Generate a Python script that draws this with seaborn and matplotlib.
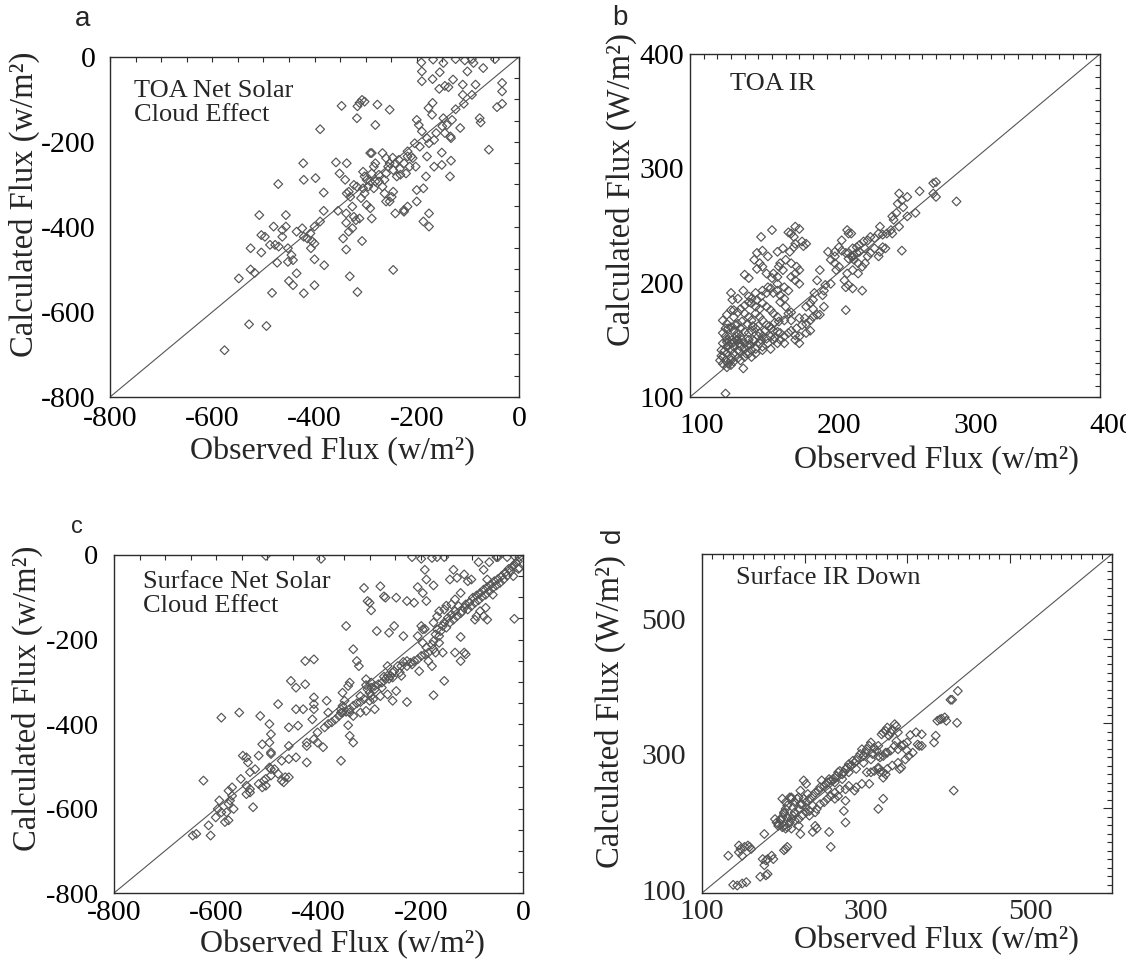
import matplotlib
matplotlib.use("Agg")
import matplotlib.pyplot as plt
import matplotlib.transforms as mtransforms
from matplotlib.ticker import MultipleLocator, FixedLocator, NullFormatter
import pandas as pd
import seaborn as sns

# values (W/m2)

# a) TOA net solar cloud effect
toa_sw_obs = [
    -191, -168, -148, -124, -106, -92, -89, -47, -190, -169, -155, -101,
    -70, -33, -190, -156, -145, -138, -129, -110, -85, -33, -110, -92,
    -43, -33, -169, -177, -170, -148, -131, -124, -115, -108, -77, -75,
    -200, -196, -190, -180, -176, -166, -162, -145, -150, -141, -134, -133,
    -59, -151, -133, -151, -135, -166, -180, -182, -187, -202, -200, -200,
    -218, -225, -176, -187, -176, -208, -218, -211, -194,
    -204, -218, -225, -235, -242, -246, -253, -260, -263, -267, -274, -281,
    -284, -288, -291, -295, -302, -309, -317, -288, -267, -260, -281, -298,
    -305, -249, -253, -246, -239, -232, -221, -214, -233, -247, -256, -274,
    -284, -305, -323, -330, -337, -326, -338, -323, -312, -298, -291, -288,
    -263, -260, -225, -242, -246,
    -316, -312, -307, -302, -317, -281, -277, -253, -347, -389,
    -358, -337, -351, -340, -333, -302, -291, -354, -338, -326, -333, -344,
    -319, -338, -307, -331, -316, -422, -421, -398, -382, -382, -389, -400,
    -408, -421, -414, -405, -400, -407, -400, -381, -421, -400, -435, -424,
    -508, -456, -480, -463, -456, -504, -497, -463, -487, -477, -470, -452,
    -525, -504, -445, -473, -452, -442, -435, -450, -442, -483, -525, -517,
    -548, -471, -576, -528, -494,
]
toa_sw_calc = [
    -13, -6, -14, -5, -8, -5, -14, -5, -34, -52, -36, -34,
    -26, -61, -57, -75, -68, -71, -53, -65, -65, -81, -89, -89,
    -118, -110, -108, -120, -136, -144, -148, -123, -167, -110, -144, -154,
    -148, -160, -175, -191, -203, -195, -179, -179, -163, -160, -187, -191,
    -218, -225, -244, -254, -281, -258, -234, -281, -309, -258, -313, -340,
    -352, -364, -368, -387, -399, -238, -222, -234, -211,
    -203, -234, -250, -242, -250, -266, -250, -274, -289, -305, -277, -293,
    -258, -274, -293, -305, -321, -332, -305, -226, -226, -238, -250, -289,
    -270, -329, -340, -317, -281, -277, -274, -258, -263, -237, -258, -293,
    -309, -309, -301, -329, -321, -352, -368, -376, -380, -348, -356, -380,
    -321, -340, -360, -368, -501,
    -116, -108, -101, -105, -144, -160, -112, -124, -115, -170,
    -248, -250, -274, -289, -317, -281, -226, -362, -390, -403, -411, -427,
    -384, -453, -433, -516, -553, -250, -289, -285, -319, -362, -387, -399,
    -415, -423, -427, -433, -439, -450, -476, -490, -556, -537, -411, -403,
    -372, -372, -399, -407, -399, -419, -423, -423, -442, -442, -446, -450,
    -450, -460, -466, -484, -482, -478, -509, -527, -537, -555, -500, -508,
    -521, -299, -690, -629, -633,
]

# b) TOA IR
toa_ir_obs = [
    278, 280, 278, 280, 295, 268, 265, 259, 253, 255, 252, 256,
    259, 251, 248, 249, 253, 247, 244, 241, 239, 238, 235, 232,
    230, 227, 224, 228, 224, 222, 219, 216, 219, 222, 216, 215,
    218, 211, 209, 206, 211, 214, 216, 220, 223, 226, 219, 223,
    215, 213, 216, 214, 219, 226, 218, 220, 235, 238, 243, 248,
    255, 241, 239, 232, 230, 228, 214, 206, 207, 209, 206, 203,
    201, 203, 199, 195, 193, 197, 198, 191, 190, 188, 185, 190,
    198,
    177, 180, 174, 172, 176, 182, 185, 183, 177, 160, 152, 153,
    149, 147, 151, 149, 153, 157, 143, 140, 164, 168, 173, 176,
    170, 174, 178, 180, 177, 174, 177, 180, 166, 165, 168, 161,
    160, 156, 164, 164, 169, 172, 166, 164, 161, 159, 157, 153,
    156, 152, 149, 148, 145, 143, 169, 166, 170, 172, 174, 174,
    169, 165, 164, 161, 159, 156, 153, 151, 148, 145, 143, 140,
    137, 135, 132, 130, 131, 135, 139, 140, 143, 145, 148, 151,
    153, 156, 159, 161, 164, 166, 169, 172, 177, 180, 177, 174,
    178, 182, 180, 184, 185, 188, 190, 193, 195, 188, 185, 180,
    124, 126, 127, 130, 132, 130, 127, 124, 126, 128, 130, 132,
    135, 137, 140, 143, 137, 135, 132, 130, 127, 124, 127, 130,
    132, 135, 137, 140, 143, 145, 148, 151, 153, 156, 159, 161,
    164, 166, 169, 159, 153, 151, 148, 145, 143, 140, 137, 135,
    132, 130, 127, 124, 123, 124, 127, 122, 123, 139, 145, 148,
    153, 130, 134, 136, 126,
    125, 128, 131, 134, 138, 142, 146, 150, 155, 158, 162, 128,
    133, 138, 142, 146, 150, 136, 140, 144, 147, 152, 157, 162,
    127, 129, 126, 132, 135, 141,
]
toa_ir_calc = [
    287, 288, 278, 275, 271, 280, 261, 275, 278, 272, 269, 266,
    258, 261, 258, 255, 249, 246, 243, 242, 249, 243, 239, 240,
    237, 236, 233, 230, 227, 226, 223, 226, 230, 231, 243, 246,
    243, 237, 231, 227, 228, 226, 221, 220, 217, 214, 211, 208,
    208, 202, 198, 196, 195, 193, 223, 224, 230, 223, 230, 243,
    228, 231, 227, 226, 223, 217, 176, 217, 211, 214, 223, 220,
    227, 199, 198, 211, 202, 189, 193, 191, 185, 182, 179, 177,
    179,
    249, 247, 243, 244, 240, 236, 234, 232, 234, 246, 240, 228,
    226, 220, 217, 212, 214, 223, 204, 207, 227, 230, 227, 231,
    220, 217, 214, 211, 208, 205, 202, 199, 217, 214, 211, 208,
    204, 208, 205, 199, 196, 193, 189, 193, 191, 195, 196, 193,
    191, 188, 185, 191, 186, 188, 186, 183, 179, 173, 167, 174,
    167, 166, 170, 173, 176, 179, 182, 177, 179, 182, 183, 180,
    177, 174, 176, 191, 185, 186, 193, 173, 170, 167, 173, 170,
    167, 163, 160, 158, 157, 156, 153, 156, 150, 147, 154, 158,
    160, 163, 169, 169, 164, 167, 170, 172, 172, 158, 156, 153,
    156, 153, 150, 147, 144, 141, 138, 135, 132, 129, 135, 138,
    141, 144, 147, 150, 153, 156, 158, 161, 164, 167, 172, 176,
    170, 164, 160, 157, 156, 158, 160, 156, 153, 151, 153, 150,
    147, 150, 147, 142, 144, 147, 142, 141, 138, 135, 132, 134,
    131, 128, 126, 129, 141, 147, 144, 132, 136, 125, 135, 138,
    141, 132, 150, 147, 103,
    140, 145, 150, 153, 150, 145, 150, 153, 158, 162, 165, 160,
    163, 166, 164, 162, 162, 140, 142, 146, 149, 150, 147, 152,
    148, 152, 160, 148, 150, 138,
]

# c) surface net solar cloud effect
sfc_sw_obs = [
    -503, -395, -217, -199, -178, -168, -154, -52, -31, -17, -7,
    -10, -14, -17, -7, -21, -28, -24, -35, -31, -42, -38, -49,
    -45, -56, -52, -63, -59, -70, -66, -77, -73, -84, -80, -91,
    -87, -98, -94, -105, -101, -112, -108, -115, -119, -126, -122, -133,
    -129, -140, -136, -147, -143, -154, -150, -157, -161, -168, -164, -171,
    -175, -178, -175, -171, -185, -189, -196, -192, -199, -206, -213, -220,
    -227, -234, -238, -245, -252, -255, -259, -262, -269, -276, -283, -290,
    -297, -304, -307, -300, -297, -311, -318, -325, -332, -339, -346, -353,
    -360, -367, -374, -381, -388,
    -17, -19, -9, -49, -66, -87, -101, -108, -77, -70, -59, -73,
    -84, -91, -94, -77, -70, -115, -129, -122, -133, -140, -150, -154,
    -164, -168, -175, -189, -192, -196, -206, -175, -189, -199, -196, -136,
    -143, -122, -115, -122, -112, -133, -157, -164, -185, -178, -154, -175,
    -192, -206,
    -279, -272, -269, -248, -227, -213, -304, -300, -297, -286, -262, -252,
    -234, -332, -325, -321, -346, -311, -265, -248, -227, -255, -290, -279,
    -307, -297, -265,
    -342, -339, -353, -349, -339, -353, -332, -318, -307, -293, -290, -276,
    -272, -265, -255, -241, -238, -227, -217, -203, -318, -300, -339, -332,
    -342, -384, -381, -356, -356, -356, -409, -409, -426, -454, -444, -409,
    -426, -479, -496, -458, -440, -409, -412, -402, -391, -409, -423, -423,
    -444, -423, -458,
    -458, -472, -479, -486, -472, -468, -465, -458, -493, -493, -503, -503,
    -510, -517, -496, -493, -517, -507, -524, -541, -548, -538, -534, -541,
    -534, -541, -552, -569, -576, -569, -573, -576, -566, -580, -576, -583,
    -594, -590, -597, -601, -615, -611, -639, -646, -625, -590, -555, -528,
    -534, -510, -493, -493, -496, -514, -444, -430, -402,
]
sfc_sw_calc = [
    -2, -9, -5, -9, -7, -5, -5, -5, -5, -2, -5,
    -15, -19, -23, -31, -28, -33, -39, -42, -49, -50, -58, -57,
    -66, -62, -72, -70, -78, -76, -86, -82, -94, -90, -99, -96,
    -107, -101, -113, -112, -121, -117, -129, -125, -133, -121, -138, -133,
    -145, -141, -153, -149, -160, -160, -172, -168, -180, -176, -192, -188,
    -204, -212, -223, -231, -231, -219, -208, -235, -239, -247, -251, -255,
    -251, -253, -263, -263, -275, -278, -286, -293, -294, -302, -306, -310,
    -314, -318, -308, -326, -334, -341, -348, -351, -357, -365, -371, -373,
    -381, -389, -396, -400, -408,
    -151, -50, -33, -5, -17, -17, -58, -62, -35, -58, -94, -125,
    -133, -145, -153, -145, -153, -46, -54, -90, -105, -117, -120, -129,
    -133, -145, -160, -58, -35, -90, -76, -72, -109, -168, -176, -35,
    -58, -194, -231, -251, -235, -231, -231, -208, -251, -263, -298, -332,
    -175, -192,
    -74, -98, -101, -101, -109, -113, -109, -113, -131, -180, -184, -168,
    -192, -223, -251, -263, -168, -78, -330, -322, -348, -345, -365, -334,
    -294, -302, -263,
    -310, -302, -326, -345, -373, -357, -381, -373, -369, -341, -318, -314,
    -288, -286, -290, -278, -286, -263, -259, -275, -334, -345, -428, -444,
    -403, -345, -373, -487, -373, -365, -337, -353, -306, -298, -314, -247,
    -251, -353, -400, -408, -404, -365, -389, -444, -455, -436, -444, -491,
    -479, -452, -452,
    -483, -487, -518, -507, -534, -538, -526, -526, -522, -507, -530, -546,
    -550, -542, -444, -467, -475, -534, -507, -479, -475, -491, -514, -546,
    -562, -566, -530, -550, -558, -570, -581, -589, -601, -609, -628, -632,
    -581, -609, -601, -621, -640, -664, -660, -664, -534, -385, -373, -597,
    -554, -448, -424, -471, -503, -381, -365, -365, -420,
]

# d) surface IR down
sfc_ir_obs = [
    412, 405, 403, 411, 390, 387, 392, 396, 398, 385, 383, 363,
    365, 368, 361, 354, 350, 346, 343, 339, 337, 335, 332, 330,
    328, 326, 324, 321, 319, 337, 335, 339, 330, 326, 321, 317,
    313, 315, 310, 308, 306, 304, 301, 299, 297, 295, 293, 290,
    288, 286, 284, 282, 279, 277, 275, 273, 271, 268, 266, 264,
    262, 260, 257, 255, 253, 251, 249, 246, 244, 242, 253, 262,
    271, 279, 288, 297, 306, 315, 324, 339, 341, 343, 332, 326,
    321, 317, 315, 310, 306, 301, 321, 324, 315, 352, 357, 350,
    348, 368, 407, 315, 321, 304, 295, 288, 286, 279, 275, 275,
    273, 275, 262, 255, 257, 238, 240, 235, 238, 231, 227, 227,
    222, 224, 220, 218, 213, 211, 209, 213, 218, 222, 227, 231,
    235, 240, 244, 249, 253, 257, 262, 266, 268, 235, 238, 231,
    229, 227, 224, 218, 220, 209, 204, 202, 200, 198, 196, 193,
    200, 207, 204, 202, 209, 218, 220, 209, 207, 198, 200, 211,
    213, 216, 202, 196, 189, 191, 193, 198, 204, 176, 174, 178,
    180, 187, 176, 178, 180, 171, 202, 204, 200, 185, 156, 152,
    147, 145, 158, 160, 145, 132, 149, 149, 154, 138, 143,
]
sfc_ir_calc = [
    398, 385, 385, 351, 356, 354, 357, 359, 354, 332, 322, 319,
    317, 334, 337, 333, 322, 319, 317, 337, 346, 349, 341, 337,
    332, 344, 339, 337, 334, 324, 317, 312, 310, 307, 302, 300,
    310, 317, 314, 305, 322, 317, 312, 307, 302, 312, 305, 300,
    295, 292, 295, 288, 290, 285, 283, 278, 275, 280, 278, 273,
    270, 268, 266, 268, 263, 261, 258, 266, 256, 251, 253, 263,
    268, 278, 283, 292, 297, 302, 307, 292, 283, 285, 288, 283,
    278, 278, 283, 280, 278, 278, 270, 275, 285, 302, 307, 310,
    297, 317, 251, 224, 239, 261, 261, 256, 251, 258, 253, 236,
    221, 204, 239, 190, 168, 199, 195, 190, 219, 221, 226, 234,
    231, 239, 231, 224, 219, 214, 209, 207, 209, 214, 219, 214,
    229, 224, 231, 234, 239, 243, 248, 243, 253, 243, 248, 239,
    246, 261, 266, 241, 251, 239, 229, 224, 217, 212, 207, 202,
    199, 204, 212, 195, 195, 199, 187, 241, 241, 239, 219, 226,
    234, 239, 234, 209, 209, 204, 199, 197, 197, 187, 150, 148,
    150, 150, 141, 126, 128, 124, 165, 168, 163, 155, 170, 168,
    165, 160, 168, 165, 170, 155, 155, 114, 116, 112, 111,
]

panel_letters = ["a", "b", "c", "d"]
panel_notes = ["TOA Net Solar\nCloud Effect", "TOA IR",
               "Surface Net Solar\nCloud Effect", "Surface IR Down"]
y_titles = ["Calculated Flux (w/m²)", "Calculated Flux (W/m²)",
            "Calculated Flux (w/m²)", "Calculated Flux (W/m²)"]
x_title = "Observed Flux (w/m²)"
d_tick_labels = [100, 300, 500]

sns.set_style("white")
plt.rcParams["font.family"] = ["Liberation Serif", "DejaVu Serif"]
plt.rcParams["axes.unicode_minus"] = False

W, H = 1126, 971
fig = plt.figure(figsize=(W / 100, H / 100), dpi=100)
MARK = "#555555"
INK = "#2b2b2b"
SANS = ["Liberation Sans", "DejaVu Sans"]


def add_panel(box):
    left, top, right, bottom = box
    return fig.add_axes([left / W, 1 - bottom / H, (right - left) / W, (bottom - top) / H])


def frac(box, px, py):
    left, top, right, bottom = box
    return (px - left) / (right - left), (bottom - py) / (bottom - top)


def draw_panel(box, obs, calc, lim, ytitle, note, note_at, ylab_at, xlab_at, xpad, ypad):
    ax = add_panel(box)
    df = pd.DataFrame({"obs": obs, "calc": calc})
    sns.scatterplot(data=df, x="obs", y="calc", ax=ax, marker="D", s=20,
                    facecolors="none", edgecolor=MARK, linewidth=0.85, legend=False)
    ax.axline((lim[0], lim[0]), slope=1, color="#555555", lw=0.8, zorder=1)
    ax.set_xlim(lim)
    ax.set_ylim(lim)
    for sp in ax.spines.values():
        sp.set_color(INK)
        sp.set_linewidth(1.0)
    ax.tick_params(which="both", direction="in", top=True, right=True,
                   length=3.4, width=0.8, color=INK, labelsize=21.5, labelcolor="black")
    ax.tick_params(axis="x", pad=xpad)
    ax.tick_params(axis="y", pad=ypad)

    ax.set_ylabel(ytitle, fontsize=23.5)
    ax.yaxis.set_label_coords(*frac(box, *ylab_at))
    ax.yaxis.label.set_va("center")
    ax.set_xlabel(x_title, fontsize=23)
    ax.xaxis.set_label_coords(*frac(box, *xlab_at))
    ax.xaxis.label.set_va("center")

    nx, ny = frac(box, *note_at)
    ax.text(nx, ny, note, transform=ax.transAxes, fontsize=19, ha="left", va="center",
            linespacing=1.15)
    return ax


# a
box_a = (110, 57, 519, 397)
ax = draw_panel(box_a, toa_sw_obs, toa_sw_calc, (-800, 0), y_titles[0], panel_notes[0],
                (134, 103), (24, 204), (332, 452), 6.5, 10.5)
ax.xaxis.set_major_locator(MultipleLocator(200))
ax.xaxis.set_minor_locator(MultipleLocator(50))
ax.yaxis.set_major_locator(MultipleLocator(200))
ax.yaxis.set_minor_locator(MultipleLocator(50))

# b
box_b = (690, 54, 1100, 397)
ax = draw_panel(box_b, toa_ir_obs, toa_ir_calc, (100, 400), y_titles[1], panel_notes[1],
                (730, 84), (621, 190), (936, 461), 11.5, 4)
ax.set_xticks([100, 200, 300, 400])
ax.set_yticks([100, 200, 300, 400])
ax.xaxis.set_minor_locator(MultipleLocator(10))
ax.yaxis.set_minor_locator(MultipleLocator(10))
shift = mtransforms.ScaledTranslation(0.12, 0, fig.dpi_scale_trans)
for lbl in ax.get_xticklabels():
    lbl.set_transform(lbl.get_transform() + shift)

# c
box_c = (114, 555, 523, 893)
ax = draw_panel(box_c, sfc_sw_obs, sfc_sw_calc, (-800, 0), y_titles[2], panel_notes[2],
                (143, 594), (27, 698), (342, 945), 5, 11.5)
ax.tick_params(axis="y", labelsize=20.5)
ax.xaxis.set_major_locator(MultipleLocator(200))
ax.xaxis.set_minor_locator(MultipleLocator(50))
ax.yaxis.set_major_locator(MultipleLocator(200))
ax.yaxis.set_minor_locator(MultipleLocator(50))

# d
box_d = (702, 554, 1112, 893)
ax = draw_panel(box_d, sfc_ir_obs, sfc_ir_calc, (100, 600), y_titles[3], panel_notes[3],
                (736, 578), (610, 712), (936, 941), 4, 12)
for axis in (ax.xaxis, ax.yaxis):
    axis.set_major_locator(FixedLocator([225, 350, 475]))
    axis.set_minor_locator(MultipleLocator(12.5))
    axis.set_major_formatter(NullFormatter())
ax.tick_params(which="major", length=6.5)
for v in d_tick_labels:
    ax.text(v, -0.018, str(v), transform=ax.get_xaxis_transform(),
            ha="center", va="top", fontsize=21.5)
    ax.text(-0.04, v, str(v), transform=ax.get_yaxis_transform(),
            ha="right", va="center", fontsize=21.5)

# panel letters
fig.text(83 / W, 1 - 19 / H, panel_letters[0], family=SANS, fontsize=20, ha="center", va="center")
fig.text(620 / W, 1 - 18 / H, panel_letters[1], family=SANS, fontsize=20, ha="center", va="center")
fig.text(77 / W, 1 - 527 / H, panel_letters[2], family=SANS, fontsize=17, ha="center", va="center")
fig.text(613 / W, 1 - 535 / H, panel_letters[3], family=SANS, fontsize=20, ha="center", va="center",
         rotation=90)

fig.savefig("out.png", dpi=100)
